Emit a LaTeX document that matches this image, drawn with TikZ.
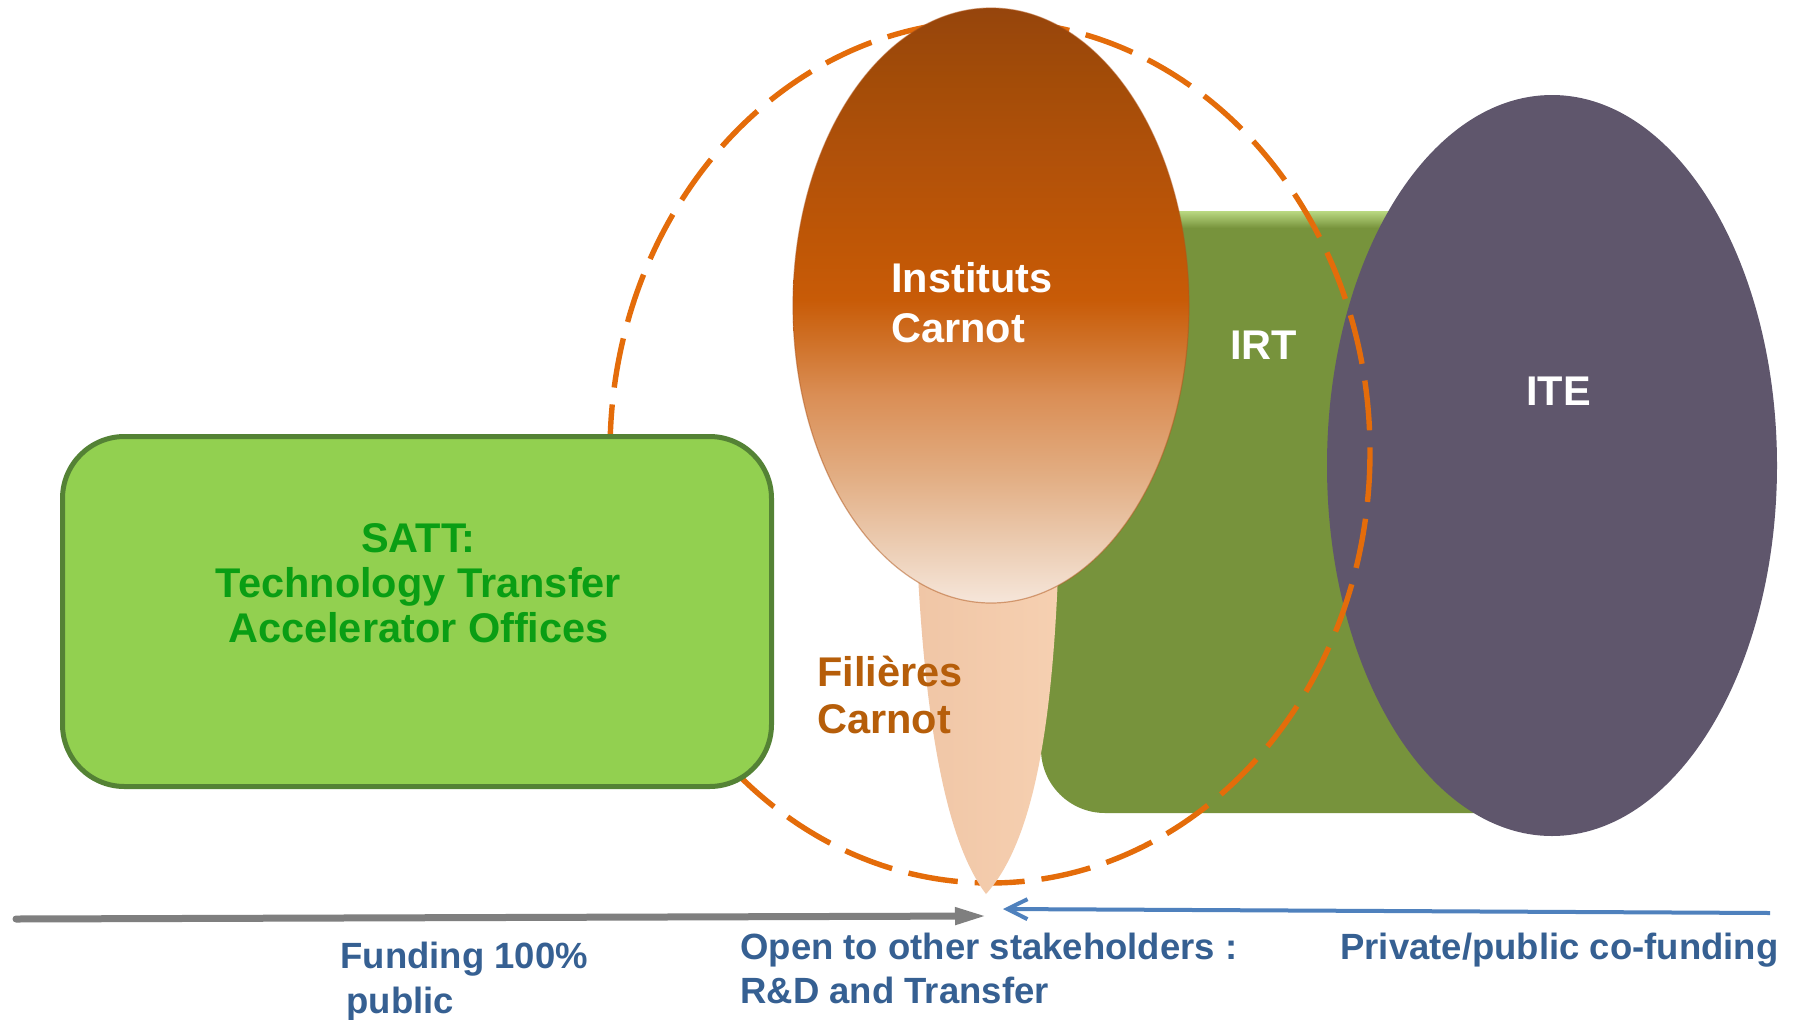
\documentclass[tikz,border=0pt]{standalone}
\usepackage{fontspec}
\setmainfont{Liberation Sans}
\usetikzlibrary{arrows.meta}

% palette
\definecolor{sattfill}{HTML}{92D050}
\definecolor{sattline}{HTML}{548235}
\definecolor{satttext}{HTML}{0A9E14}
\definecolor{irtgreen}{HTML}{77933C}
\definecolor{irtlight}{HTML}{C2E18A}
\definecolor{itepurple}{HTML}{5F566C}
\definecolor{dashorange}{HTML}{E46C0A}
\definecolor{stemL}{HTML}{F0C6A6}
\definecolor{stemM}{HTML}{F8D5B9}
\definecolor{stemR}{HTML}{F6D0B1}
\definecolor{filiere}{HTML}{B65E0A}
\definecolor{fundblue}{HTML}{366092}
\definecolor{arrowgray}{HTML}{7F7F7F}
\definecolor{arrowblue}{HTML}{4F81BD}
\definecolor{carnotrim}{HTML}{B0561A}

% vertical tones of the Carnot oval, bottom (25bp) to top (75bp)
\definecolor{cA}{HTML}{F6E6DA}
\definecolor{cB}{HTML}{EDD0B8}
\definecolor{cC}{HTML}{E2AD82}
\definecolor{cD}{HTML}{DA8E55}
\definecolor{cE}{HTML}{CF7026}
\definecolor{cF}{HTML}{C85B07}
\definecolor{cG}{HTML}{BE5606}
\definecolor{cH}{HTML}{B1510A}
\definecolor{cI}{HTML}{A34C08}
\definecolor{cJ}{HTML}{96450C}
\pgfdeclareverticalshading{carnotshade}{100bp}{%
  color(0bp)=(cA); color(25bp)=(cA); color(29.2bp)=(cB); color(35.8bp)=(cC);
  color(42.5bp)=(cD); color(47.1bp)=(cE); color(50.5bp)=(cF); color(55.8bp)=(cG);
  color(62.4bp)=(cH); color(69bp)=(cI); color(75bp)=(cJ); color(100bp)=(cJ)}

\begin{document}
\begin{tikzpicture}[x=0.5pt,y=-0.5pt,
  lab/.style={font=\bfseries\fontsize{20.75}{24}\selectfont, inner sep=0pt, anchor=base west},
  foot/.style={font=\bfseries\fontsize{18.25}{22}\selectfont, text=fundblue, inner sep=0pt, anchor=base west},
  dashring/.style={dashorange, line width=2.7pt, dash pattern=on 25pt off 8.5pt},
]
\useasboundingbox (0,0) rectangle (1801,1019);
\fill[white] (0,0) rectangle (1801,1019);

% IRT block with a light bevel along its top edge
\fill[irtgreen, rounded corners=32pt] (1041,211) rectangle (1590,813);
\begin{scope}
  \clip[rounded corners=32pt] (1041,211) rectangle (1590,813);
  \shade[top color=irtlight, bottom color=irtgreen] (1041,209) rectangle (1590,228);
\end{scope}

% ITE oval
\fill[itepurple] (1552,465.5) ellipse [x radius=225, y radius=370.5];

% dashed ring around the Carnot family
\draw[dashring] (990,452) ellipse [x radius=380, y radius=431];

% stem of the Carnot oval
\shade[left color=stemL, middle color=stemM, right color=stemR]
  (918,575) .. controls (926,720) and (945,840) .. (986,894)
            .. controls (1035,840) and (1052,720) .. (1058,575) -- cycle;

% Carnot oval
\shade[shading=carnotshade] (991,305.5) ellipse [x radius=198, y radius=297.5];
\draw[carnotrim, line width=0.6pt, opacity=0.5] (991,305.5) ellipse [x radius=198, y radius=297.5];

% SATT box
\draw[sattline, fill=sattfill, line width=2.5pt, rounded corners=31pt]
  (62.5,436.5) rectangle (771.5,786.5);

% funding axis
\coordinate (grayStart) at (16,919);
\coordinate (grayTip) at (987,916);
\coordinate (blueStart) at (1770,913);
\coordinate (blueTip) at (1003,909);
\draw[arrowgray, line width=3.5pt, line cap=round, -{Triangle[length=16pt,width=8pt]}]
  (grayStart) -- (grayTip);
\draw[arrowblue, line width=2pt, -{Straight Barb[length=10pt,width=10pt]}]
  (blueStart) -- (blueTip);

% labels
\node[lab, text=white] (inst1) at (891,292) {Instituts};
\node[lab, text=white] (inst2) at (891,342) {Carnot};
\node[lab, text=white] (irt) at (1230,359) {IRT};
\node[lab, text=white] (ite) at (1526,405) {ITE};
\node[lab, text=filiere] (fil1) at (817,686) {Filières};
\node[lab, text=filiere] (fil2) at (817,733) {Carnot};
\node[lab, text=satttext, anchor=base] (satt1) at (418.5,552) {SATT:};
\node[lab, text=satttext, anchor=base] (satt2) at (418.5,597) {Technology Transfer};
\node[lab, text=satttext, anchor=base] (satt3) at (418.5,642) {Accelerator Offices};

\node[foot] (fund1) at (340,968) {Funding 100\%};
\node[foot] (fund2) at (346,1013) {public};
\node[foot] (open1) at (740,959) {Open to other stakeholders :};
\node[foot] (open2) at (740,1003) {R\&D and Transfer};
\node[foot] (priv) at (1340,959) {Private/public co-funding};
\end{tikzpicture}
\end{document}
